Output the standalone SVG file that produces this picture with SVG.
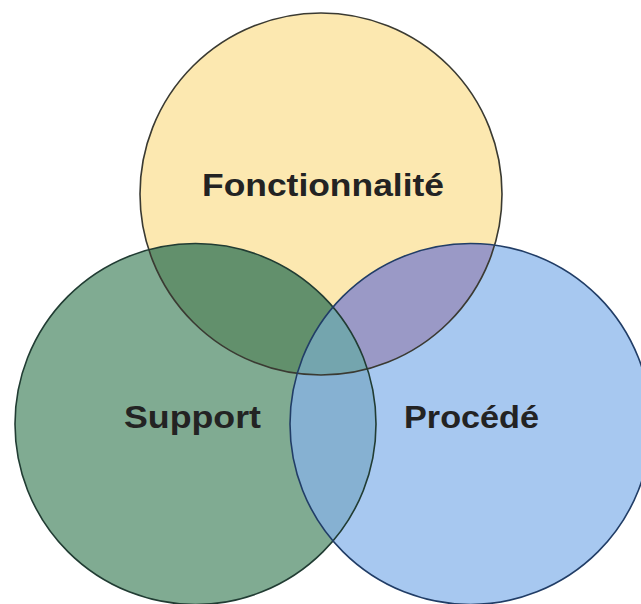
<svg xmlns="http://www.w3.org/2000/svg" width="641" height="604" viewBox="0 0 641 604">
  <style>
    .lbl { font-family: "Liberation Sans", Arial, sans-serif; font-weight: bold; font-size: 32px; fill: #232323; }
    .edge { fill: none; stroke-width: 1.6; }
  </style>
  <defs>
    <clipPath id="cT"><circle cx="321" cy="194" r="181"/></clipPath>
    <clipPath id="cL"><circle cx="195.5" cy="424" r="180.5"/></clipPath>
    <clipPath id="cR"><circle cx="470.5" cy="424" r="180.5"/></clipPath>
  </defs>
  <rect width="641" height="604" fill="#ffffff"/>
  <g id="fills">
    <circle cx="321" cy="194" r="181" fill="#FCE8B0"/>
    <circle cx="195.5" cy="424" r="180.5" fill="#80AB92"/>
    <circle cx="470.5" cy="424" r="180.5" fill="#A7C8F0"/>
    <circle cx="195.5" cy="424" r="180.5" fill="#62906C" clip-path="url(#cT)"/>
    <circle cx="470.5" cy="424" r="180.5" fill="#9A99C6" clip-path="url(#cT)"/>
    <circle cx="470.5" cy="424" r="180.5" fill="#86B1D2" clip-path="url(#cL)"/>
    <g clip-path="url(#cT)">
      <circle cx="470.5" cy="424" r="180.5" fill="#74A5AE" clip-path="url(#cL)"/>
    </g>
  </g>
  <g id="fonctionnalite">
    <circle class="edge" cx="321" cy="194" r="181" stroke="#3a3a32"/>
    <text class="lbl" x="202" y="196" textLength="242" lengthAdjust="spacingAndGlyphs">Fonctionnalité</text>
  </g>
  <g id="support">
    <circle class="edge" cx="195.5" cy="424" r="180.5" stroke="#213c33"/>
    <text class="lbl" x="124" y="428" textLength="137" lengthAdjust="spacingAndGlyphs">Support</text>
  </g>
  <g id="procede">
    <circle class="edge" cx="470.5" cy="424" r="180.5" stroke="#213d66"/>
    <text class="lbl" x="404" y="428" textLength="135" lengthAdjust="spacingAndGlyphs">Procédé</text>
  </g>
</svg>
